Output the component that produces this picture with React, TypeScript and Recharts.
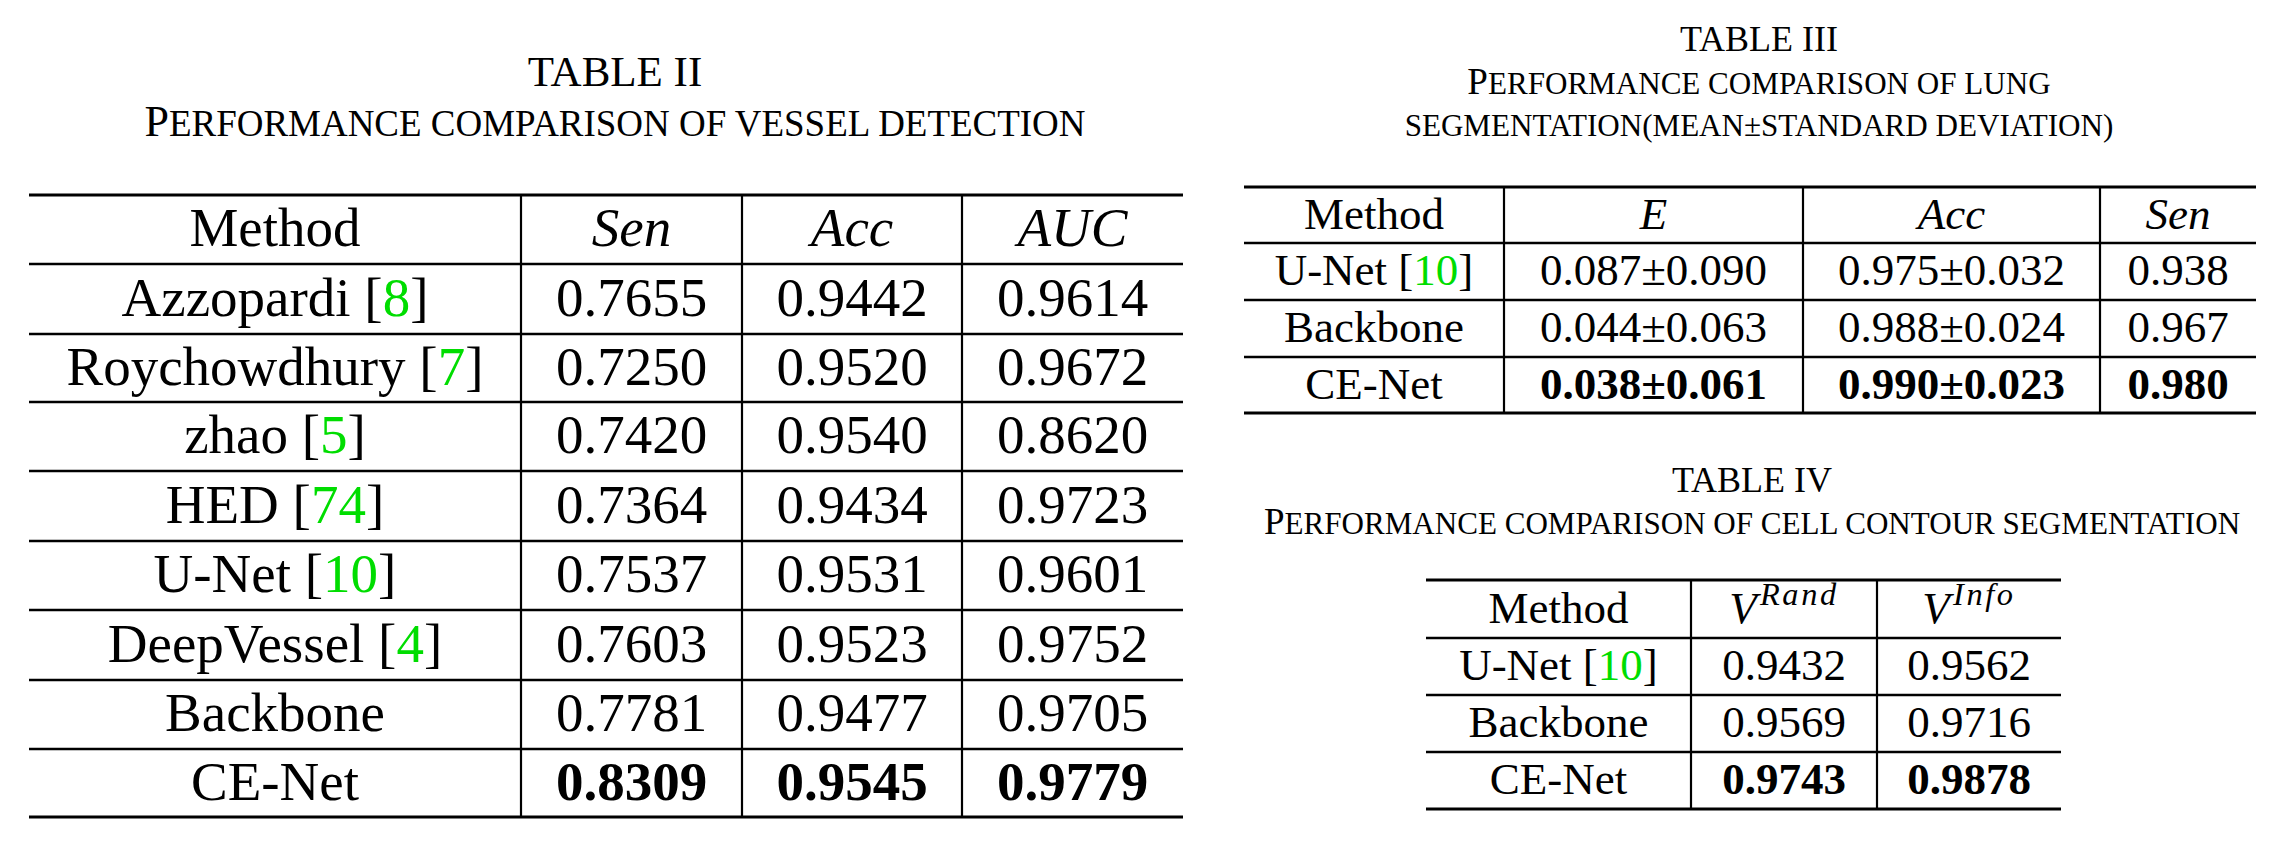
import React from "react";
import { ScatterChart, Scatter, XAxis, YAxis, ReferenceLine } from "recharts";

document.body.style.margin = "0";

// TABLE II – vessel detection
const t2Methods = ["Azzopardi [8]", "Roychowdhury [7]", "zhao [5]", "HED [74]", "U-Net [10]", "DeepVessel [4]", "Backbone", "CE-Net"];
const t2Sen = [0.7655, 0.725, 0.742, 0.7364, 0.7537, 0.7603, 0.7781, 0.8309];
const t2Acc = [0.9442, 0.952, 0.954, 0.9434, 0.9531, 0.9523, 0.9477, 0.9545];
const t2Auc = [0.9614, 0.9672, 0.862, 0.9723, 0.9601, 0.9752, 0.9705, 0.9779];

// TABLE III – lung segmentation (mean ± sd)
const t3Methods = ["U-Net [10]", "Backbone", "CE-Net"];
const t3EMean = [0.087, 0.044, 0.038];
const t3ESd = [0.09, 0.063, 0.061];
const t3AccMean = [0.975, 0.988, 0.99];
const t3AccSd = [0.032, 0.024, 0.023];
const t3Sen = [0.938, 0.967, 0.98];

// TABLE IV – cell contour segmentation
const t4Methods = ["U-Net [10]", "Backbone", "CE-Net"];
const t4VRand = [0.9432, 0.9569, 0.9743];
const t4VInfo = [0.9562, 0.9716, 0.9878];

const W = 2290;
const H = 850;
const SERIF = "'Liberation Serif', 'DejaVu Serif', serif";
const GREEN = "#00dd00";

type Cell = { x: number; y: number; text: string; bold?: boolean; head?: boolean; size: number };

const f4 = (v: number) => v.toFixed(4);
const f3 = (v: number) => v.toFixed(3);

const tables = [
  {
    cols: [29, 521, 742, 962, 1183],
    rows: [195, 264, 334, 402, 471, 541, 610, 680, 749, 817],
    size: 55,
    head: ["Method", "$Sen", "$Acc", "$AUC"],
    body: t2Methods.map((m, i) => [m, f4(t2Sen[i]), f4(t2Acc[i]), f4(t2Auc[i])]),
  },
  {
    cols: [1244, 1504, 1803, 2100, 2256],
    rows: [187, 243, 300, 357, 413],
    size: 45,
    head: ["Method", "$E", "$Acc", "$Sen"],
    body: t3Methods.map((m, i) => [
      m,
      `${f3(t3EMean[i])}±${f3(t3ESd[i])}`,
      `${f3(t3AccMean[i])}±${f3(t3AccSd[i])}`,
      f3(t3Sen[i]),
    ]),
  },
  {
    cols: [1426, 1691, 1877, 2061],
    rows: [580, 638, 695, 752, 809],
    size: 45,
    head: ["Method", "$V^Rand", "$V^Info"],
    body: t4Methods.map((m, i) => [m, f4(t4VRand[i]), f4(t4VInfo[i])]),
  },
];

const cells: Cell[] = [];
tables.forEach((t) => {
  const all = [t.head, ...t.body];
  all.forEach((row, r) => {
    row.forEach((text, c) => {
      cells.push({
        x: (t.cols[c] + t.cols[c + 1]) / 2,
        y: (t.rows[r] + t.rows[r + 1]) / 2,
        text,
        size: t.size,
        head: r === 0,
        bold: r === all.length - 1 && c > 0,
      });
    });
  });
});

type Title = { x: number; y: number; text: string; size: number; caps?: boolean };
const titles: Title[] = [
  { x: 615, y: 71, text: "TABLE II", size: 43 },
  { x: 615, y: 121, text: "Performance comparison of vessel detection", size: 44, caps: true },
  { x: 1759, y: 39, text: "TABLE III", size: 36 },
  { x: 1759, y: 81, text: "Performance comparison of lung", size: 37, caps: true },
  { x: 1759, y: 123, text: "segmentation(mean±standard deviation)", size: 37, caps: true },
  { x: 1752, y: 480, text: "TABLE IV", size: 36 },
  { x: 1752, y: 521, text: "Performance comparison of cell contour segmentation", size: 37, caps: true },
];

function renderRich(text: string) {
  if (text.startsWith("$")) {
    const [base, sup] = text.slice(1).split("^");
    return (
      <>
        <tspan fontStyle="italic">{base}</tspan>
        {sup && (
          <tspan fontStyle="italic" fontSize="0.72em" dy="-0.55em" dx="0.1em" letterSpacing="0.08em">
            {sup}
          </tspan>
        )}
      </>
    );
  }
  const m = text.match(/^(.*)\[(\d+)\]$/);
  if (m) {
    return (
      <>
        <tspan>{m[1]}[</tspan>
        <tspan fill={GREEN}>{m[2]}</tspan>
        <tspan>]</tspan>
      </>
    );
  }
  return text;
}

const CellShape = (props: any) => {
  const { cx, cy, payload } = props;
  const c = payload as Cell;
  return (
    <text
      x={cx}
      y={cy}
      dy="0.3em"
      textAnchor="middle"
      fontFamily={SERIF}
      fontSize={c.size}
      fontWeight={c.bold ? "bold" : "normal"}
      fill="#000"
    >
      {renderRich(c.text)}
    </text>
  );
};

const TitleShape = (props: any) => {
  const { cx, cy, payload } = props;
  const t = payload as Title;
  let content: React.ReactNode = t.text;
  if (t.caps) {
    const first = t.text[0];
    const isCap = /[A-Z]/.test(first);
    content = isCap ? (
      <>
        <tspan>{first}</tspan>
        <tspan fontSize="0.84em">{t.text.slice(1).toUpperCase()}</tspan>
      </>
    ) : (
      <tspan fontSize="0.84em">{t.text.toUpperCase()}</tspan>
    );
  }
  return (
    <text x={cx} y={cy} dy="0.34em" textAnchor="middle" fontFamily={SERIF} fontSize={t.size} fill="#000">
      {content}
    </text>
  );
};

export default function App() {
  const lines: React.ReactNode[] = [];
  tables.forEach((t, ti) => {
    const x0 = t.cols[0];
    const x1 = t.cols[t.cols.length - 1];
    const y0 = t.rows[0];
    const y1 = t.rows[t.rows.length - 1];
    t.rows.forEach((y, i) => {
      const outer = i === 0 || i === t.rows.length - 1;
      lines.push(
        <ReferenceLine
          key={`h${ti}-${i}`}
          segment={[{ x: x0, y }, { x: x1, y }]}
          stroke="#000"
          strokeWidth={outer ? 3.2 : 2.4}
          ifOverflow="visible"
        />
      );
    });
    t.cols.slice(1, -1).forEach((x, i) => {
      lines.push(
        <ReferenceLine
          key={`v${ti}-${i}`}
          segment={[{ x, y: y0 }, { x, y: y1 }]}
          stroke="#000"
          strokeWidth={2.2}
          ifOverflow="visible"
        />
      );
    });
  });

  return (
    <div style={{ width: W, height: H, background: "#fff" }}>
      <ScatterChart width={W} height={H} margin={{ top: 0, right: 0, bottom: 0, left: 0 }}>
        <XAxis type="number" dataKey="x" domain={[0, W]} hide />
        <YAxis type="number" dataKey="y" domain={[0, H]} reversed hide />
        {lines}
        <Scatter data={cells} shape={CellShape} isAnimationActive={false} />
        <Scatter data={titles} shape={TitleShape} isAnimationActive={false} />
      </ScatterChart>
    </div>
  );
}
